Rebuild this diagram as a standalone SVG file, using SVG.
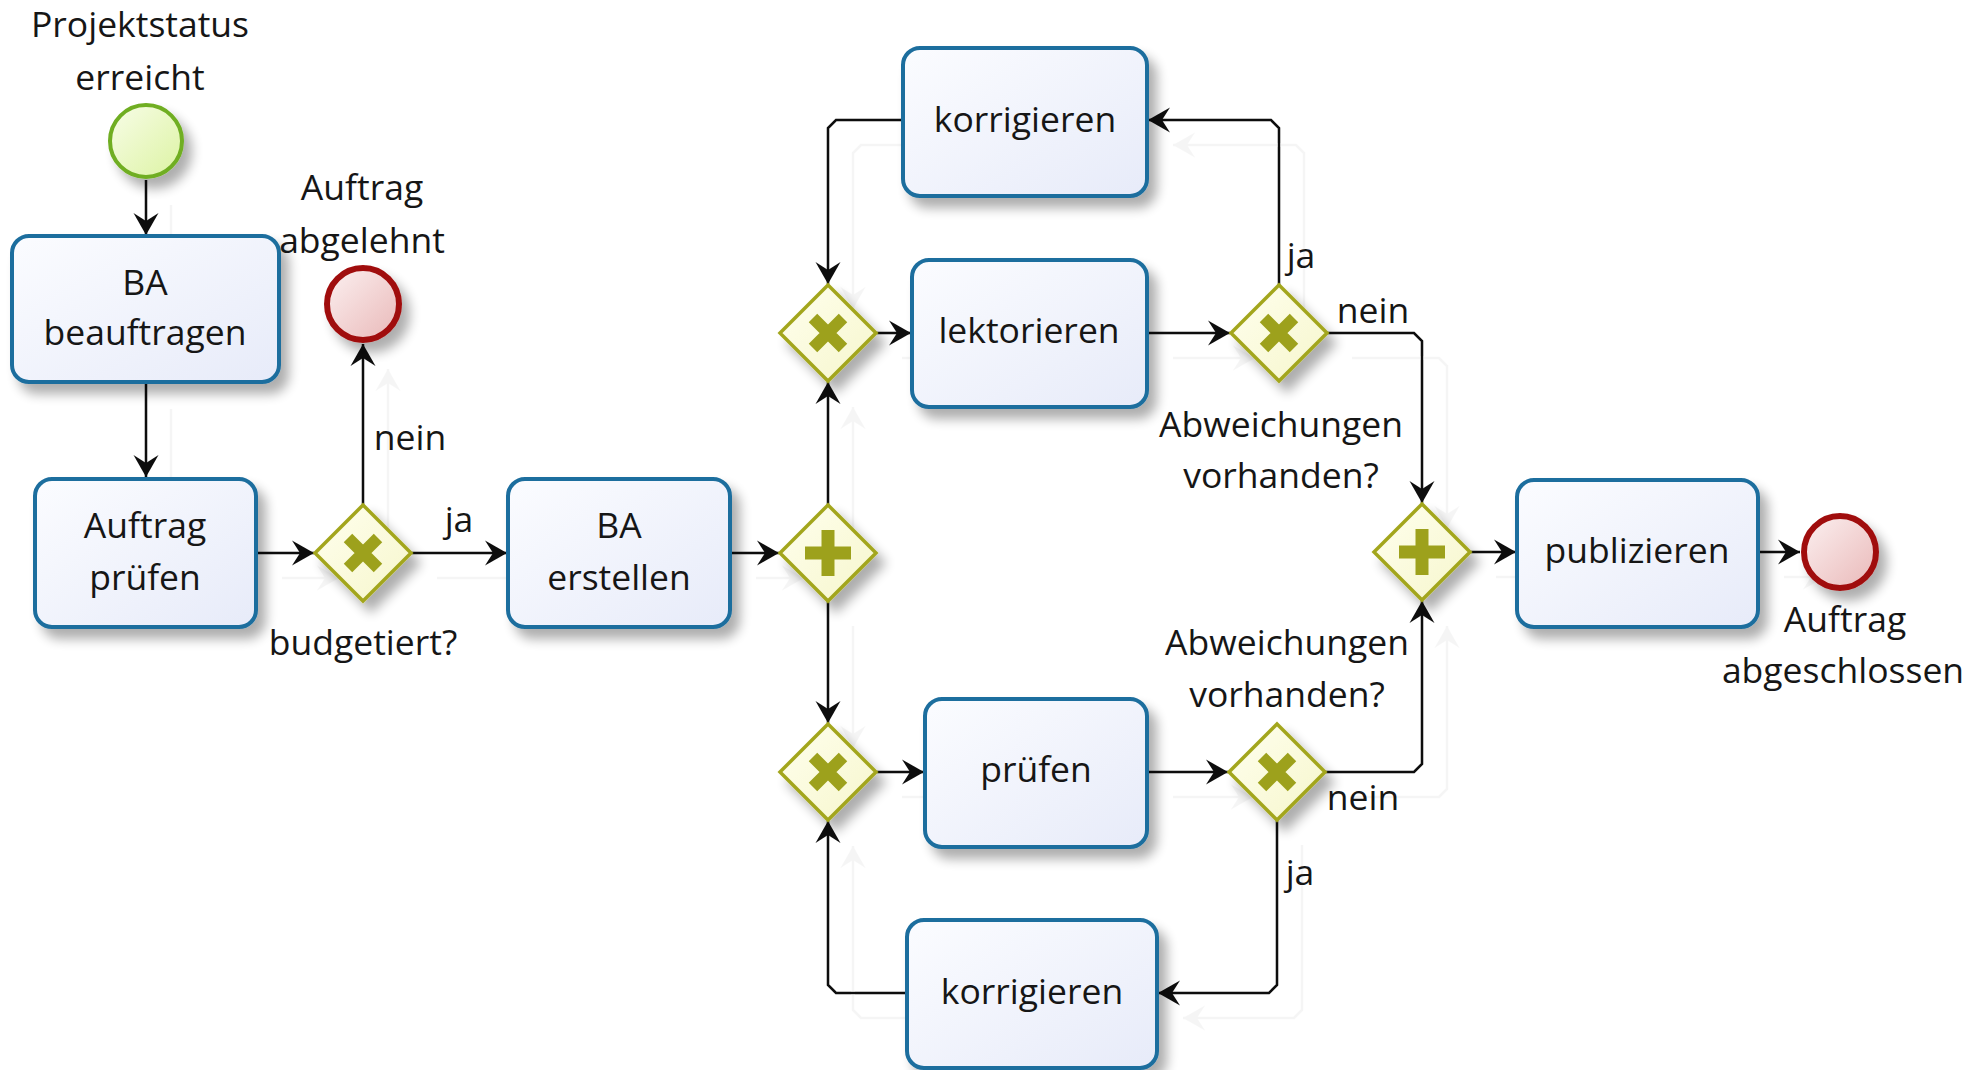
<svg xmlns="http://www.w3.org/2000/svg" width="1975" height="1070" viewBox="0 0 1975 1070">
  <defs>
    <style>
      .t { font-family: "Open Sans", "Noto Sans", "Liberation Sans", sans-serif; font-size: 35.5px; fill: #161616; text-anchor: middle; }
      .task { fill: url(#gTask); stroke: #1f6e9e; stroke-width: 4; }
      .gw { fill: url(#gGw); stroke: #a3a61f; stroke-width: 3.5; stroke-linejoin: miter; }
      .xmark { stroke: #9da11c; stroke-width: 12; stroke-linecap: butt; }
      .plus { fill: #9da11c; }
      .start { fill: url(#gStart); stroke: #6fae22; stroke-width: 4; }
      .end { fill: url(#gEnd); stroke: #a00a0a; stroke-width: 6; }
      .flow { fill: none; stroke: #111; stroke-width: 2.5; marker-end: url(#arr); }
      .flow-plain { fill: none; stroke: #111; stroke-width: 2.5; }
    </style>
    <linearGradient id="gTask" x1="0" y1="0" x2="1" y2="1">
      <stop offset="0" stop-color="#fbfcff"/>
      <stop offset="1" stop-color="#e7ebf9"/>
    </linearGradient>
    <linearGradient id="gGw" x1="0" y1="0" x2="1" y2="1">
      <stop offset="0" stop-color="#ffffee"/>
      <stop offset="1" stop-color="#f6f6cc"/>
    </linearGradient>
    <linearGradient id="gStart" x1="0" y1="0" x2="1" y2="1">
      <stop offset="0" stop-color="#f8fde8"/>
      <stop offset="1" stop-color="#dcf3a2"/>
    </linearGradient>
    <linearGradient id="gEnd" x1="0" y1="0" x2="1" y2="1">
      <stop offset="0" stop-color="#fcf1f1"/>
      <stop offset="1" stop-color="#e9b8b8"/>
    </linearGradient>
    <filter id="shadow" x="-20%" y="-20%" width="150%" height="150%">
      <feGaussianBlur in="SourceAlpha" stdDeviation="6"/>
      <feOffset dx="8" dy="10" result="b"/>
      <feComponentTransfer in="b" result="s">
        <feFuncA type="linear" slope="0.32"/>
      </feComponentTransfer>
      <feMerge>
        <feMergeNode in="s"/>
        <feMergeNode in="SourceGraphic"/>
      </feMerge>
    </filter>
    <filter id="ghost" filterUnits="userSpaceOnUse" x="0" y="0" width="1975" height="1070">
      <feOffset in="SourceAlpha" dx="25" dy="25" result="o"/>
      <feGaussianBlur in="o" stdDeviation="0.7" result="b"/>
      <feColorMatrix in="b" type="matrix" values="0 0 0 0 0.55  0 0 0 0 0.55  0 0 0 0 0.55  0 0 0 0.16 0" result="g"/>
      <feMerge>
        <feMergeNode in="g"/>
        <feMergeNode in="SourceGraphic"/>
      </feMerge>
    </filter>
    <marker id="arr" markerUnits="userSpaceOnUse" markerWidth="26" markerHeight="28" viewBox="-23 -14 25 28" refX="0" refY="0" orient="auto">
      <path d="M0,0 L-22,-12.5 L-14,0 L-22,12.5 Z" fill="#111"/>
    </marker>
  </defs>

  <rect width="1975" height="1070" fill="#ffffff"/>

  <!-- sequence flows -->
  <g id="connectors" filter="url(#ghost)">
    <path class="flow" d="M146,180 V235"/>
    <path class="flow" d="M146,384 V477"/>
    <path class="flow" d="M257,553 H314"/>
    <path class="flow" d="M363,505 V344"/>
    <path class="flow" d="M412,553 H507"/>
    <path class="flow" d="M731,553 H779"/>
    <path class="flow" d="M828,505 V382"/>
    <path class="flow" d="M828,601 V723"/>
    <path class="flow" d="M877,333 H911"/>
    <path class="flow" d="M1148,333 H1230"/>
    <path class="flow" d="M1279,285 V128 L1271,120 H1148"/>
    <path class="flow" d="M902,120 H836 L828,128 V284"/>
    <path class="flow" d="M1327,333 H1414 L1422,341 V503"/>
    <path class="flow" d="M1325,772 H1414 L1422,764 V601"/>
    <path class="flow" d="M1277,820 V985 L1269,993 H1158"/>
    <path class="flow" d="M906,993 H836 L828,985 V821"/>
    <path class="flow" d="M877,772 H924"/>
    <path class="flow" d="M1148,772 H1228"/>
    <path class="flow" d="M1471,552 H1516"/>
    <path class="flow" d="M1759,552 H1800"/>
  </g>

  <!-- flow labels -->
  <g id="flow-labels">
    <text class="t" x="410" y="450">nein</text>
    <text class="t" x="459" y="532">ja</text>
    <text class="t" x="1301" y="268">ja</text>
    <text class="t" x="1373" y="323">nein</text>
    <text class="t" x="1363" y="810">nein</text>
    <text class="t" x="1300" y="885">ja</text>
  </g>

  <g id="start" filter="url(#shadow)">
    <circle class="start" cx="146" cy="141" r="36"/>
  </g>
  <g id="start-label">
    <text class="t" x="140" y="37">Projektstatus</text>
    <text class="t" x="140" y="90">erreicht</text>
  </g>

  <g id="ba-beauftragen">
    <rect class="task" x="12" y="236" width="267" height="146" rx="17" filter="url(#shadow)"/>
    <text class="t" x="145" y="295">BA</text>
    <text class="t" x="145" y="345">beauftragen</text>
  </g>

  <g id="auftrag-pruefen">
    <rect class="task" x="35" y="479" width="221" height="148" rx="17" filter="url(#shadow)"/>
    <text class="t" x="145" y="538">Auftrag</text>
    <text class="t" x="145" y="590">prüfen</text>
  </g>

  <g id="gw-budget">
    <path class="gw" d="M363,505 L411,553 L363,601 L315,553 Z" filter="url(#shadow)"/>
    <path class="xmark" d="M348,538 L378,568 M378,538 L348,568"/>
    <text class="t" x="363" y="655">budgetiert?</text>
  </g>

  <g id="end-abgelehnt">
    <circle class="end" cx="363" cy="304" r="36" filter="url(#shadow)"/>
    <text class="t" x="362" y="200">Auftrag</text>
    <text class="t" x="362" y="253">abgelehnt</text>
  </g>

  <g id="ba-erstellen">
    <rect class="task" x="508" y="479" width="222" height="148" rx="17" filter="url(#shadow)"/>
    <text class="t" x="619" y="538">BA</text>
    <text class="t" x="619" y="590">erstellen</text>
  </g>

  <g id="gw-split">
    <path class="gw" d="M828,505 L876,553 L828,601 L780,553 Z" filter="url(#shadow)"/>
    <path class="plus" d="M821.5,530 h13 v16.5 h16.5 v13 h-16.5 v16.5 h-13 v-16.5 h-16.5 v-13 h16.5 Z"/>
  </g>

  <g id="gw-lektorat-merge">
    <path class="gw" d="M828,285 L876,333 L828,381 L780,333 Z" filter="url(#shadow)"/>
    <path class="xmark" d="M813,318 L843,348 M843,318 L813,348"/>
  </g>

  <g id="korrigieren-oben">
    <rect class="task" x="903" y="48" width="244" height="148" rx="17" filter="url(#shadow)"/>
    <text class="t" x="1025" y="132">korrigieren</text>
  </g>

  <g id="lektorieren">
    <rect class="task" x="912" y="260" width="235" height="147" rx="17" filter="url(#shadow)"/>
    <text class="t" x="1029" y="343">lektorieren</text>
  </g>

  <g id="gw-lektorat-check">
    <path class="gw" d="M1279,285 L1327,333 L1279,381 L1231,333 Z" filter="url(#shadow)"/>
    <path class="xmark" d="M1264,318 L1294,348 M1294,318 L1264,348"/>
    <text class="t" x="1281" y="437">Abweichungen</text>
    <text class="t" x="1281" y="488">vorhanden?</text>
  </g>

  <g id="gw-pruefung-merge">
    <path class="gw" d="M828,724 L876,772 L828,820 L780,772 Z" filter="url(#shadow)"/>
    <path class="xmark" d="M813,757 L843,787 M843,757 L813,787"/>
  </g>

  <g id="pruefen">
    <rect class="task" x="925" y="699" width="222" height="148" rx="17" filter="url(#shadow)"/>
    <text class="t" x="1036" y="782">prüfen</text>
  </g>

  <g id="gw-pruefung-check">
    <path class="gw" d="M1277,724 L1325,772 L1277,820 L1229,772 Z" filter="url(#shadow)"/>
    <path class="xmark" d="M1262,757 L1292,787 M1292,757 L1262,787"/>
    <text class="t" x="1287" y="655">Abweichungen</text>
    <text class="t" x="1287" y="707">vorhanden?</text>
  </g>

  <g id="korrigieren-unten">
    <rect class="task" x="907" y="920" width="250" height="148" rx="17" filter="url(#shadow)"/>
    <text class="t" x="1032" y="1004">korrigieren</text>
  </g>

  <g id="gw-join">
    <path class="gw" d="M1422,504 L1470,552 L1422,600 L1374,552 Z" filter="url(#shadow)"/>
    <path class="plus" d="M1415.5,529 h13 v16.5 h16.5 v13 h-16.5 v16.5 h-13 v-16.5 h-16.5 v-13 h16.5 Z"/>
  </g>

  <g id="publizieren">
    <rect class="task" x="1517" y="480" width="241" height="147" rx="17" filter="url(#shadow)"/>
    <text class="t" x="1637" y="563">publizieren</text>
  </g>

  <g id="end-abgeschlossen">
    <circle class="end" cx="1840" cy="552" r="36" filter="url(#shadow)"/>
    <text class="t" x="1845" y="632">Auftrag</text>
    <text class="t" x="1843" y="683">abgeschlossen</text>
  </g>
</svg>
